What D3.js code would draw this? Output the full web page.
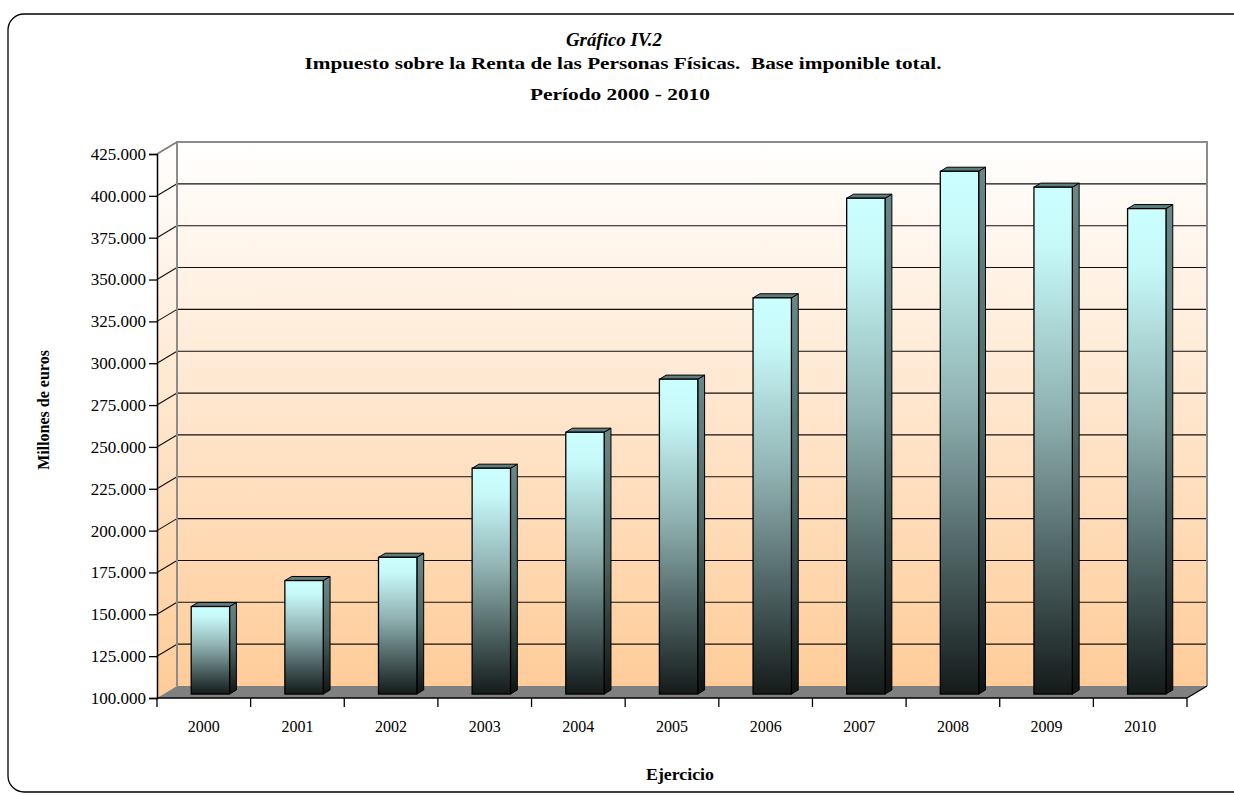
<!DOCTYPE html>
<html>
<head>
<meta charset="utf-8">
<script src="https://cdn.jsdelivr.net/npm/d3@7"></script>
<style>
  html, body { margin: 0; padding: 0; background: #fff; }
  svg { display: block; }
  text { font-family: "Liberation Serif", "Times New Roman", serif; fill: #000; }
</style>
</head>
<body>
<svg id="chart" width="1234" height="795"></svg>
<script>
// ---- Data ----
const years = ["2000","2001","2002","2003","2004","2005","2006","2007","2008","2009","2010"];
const values = [152300, 167800, 181700, 234900, 256400, 288100, 336700, 396200, 412300, 402800, 390000];
const yTicks = [100000,125000,150000,175000,200000,225000,250000,275000,300000,325000,350000,375000,400000,425000];
const titleLines = ["Gráfico IV.2", "Impuesto sobre la Renta de las Personas Físicas.\u00A0 Base imponible total.", "Período 2000 - 2010"];
const yAxisTitle = "Millones de euros";
const xAxisTitle = "Ejercicio";

// ---- Layout ----
const svg = d3.select("#chart");
const X0 = 157, X1 = 1187;   // front plane x range
const YB = 698, YT = 154;    // front plane y range
const DX = 20, DY = -12;     // depth offset of back wall
const zF = 0.33, zB = 0.67;  // bar depth range (fraction of depth)

const x = d3.scaleBand().domain(years).range([X0, X1]).paddingInner(0).paddingOuter(0);
const y = d3.scaleLinear().domain([100000, 425000]).range([YB, YT]);
const fmt = v => d3.format(",")(v).replace(/,/g, ".");

const defs = svg.append("defs");
const wallGrad = defs.append("linearGradient").attr("id","wallGrad")
  .attr("gradientUnits","userSpaceOnUse").attr("x1",0).attr("y1",YT+DY).attr("x2",0).attr("y2",YB+DY);
wallGrad.append("stop").attr("offset","0").attr("stop-color","#ffffff");
wallGrad.append("stop").attr("offset","1").attr("stop-color","#ffcc99");

const barGrad = defs.append("linearGradient").attr("id","barGrad").attr("x1",0).attr("y1",0).attr("x2",0).attr("y2",1);
[["0","#ccffff"],["0.12","#c6f8f8"],["0.45","#8fb0b0"],["0.75","#4a5e5e"],["1","#141a1a"]]
  .forEach(s => barGrad.append("stop").attr("offset",s[0]).attr("stop-color",s[1]));
const sideGrad = defs.append("linearGradient").attr("id","sideGrad").attr("x1",0).attr("y1",0).attr("x2",0).attr("y2",1);
[["0","#6a8888"],["0.5","#4a6262"],["1","#0f1414"]]
  .forEach(s => sideGrad.append("stop").attr("offset",s[0]).attr("stop-color",s[1]));

// Outer rounded frame
svg.append("rect").attr("x",8).attr("y",14).attr("width",1245).attr("height",778)
  .attr("rx",16).attr("ry",16).attr("fill","#fff").attr("stroke","#000").attr("stroke-width",1.3);

// Title
const titleSpec = [
  {x: 614, y: 46, size: 18, italic: true, len: 96},
  {x: 623, y: 69, size: 17, italic: false, len: 637},
  {x: 620, y: 100, size: 17, italic: false, len: 180}
];
titleLines.forEach((t,i) => {
  const s = titleSpec[i];
  svg.append("text").attr("x", s.x).attr("y", s.y).attr("text-anchor","middle")
    .attr("font-size", s.size).attr("font-weight","bold")
    .attr("font-style", s.italic ? "italic" : "normal")
    .attr("textLength", s.len).attr("lengthAdjust","spacingAndGlyphs").text(t);
});

const pline = pts => d3.line()(pts) + "Z";

// Back wall
svg.append("path").attr("d", pline([[X0+DX,YT+DY],[X1+DX,YT+DY],[X1+DX,YB+DY],[X0+DX,YB+DY]]))
  .attr("fill","url(#wallGrad)");
// Left side wall
svg.append("path").attr("d", pline([[X0,YT],[X0+DX,YT+DY],[X0+DX,YB+DY],[X0,YB]]))
  .attr("fill","url(#wallGrad)");

// Gridlines (back wall + side wall diagonals)
const grid = svg.append("g");
yTicks.slice(1, -1).forEach(v => {
  grid.append("line").attr("x1",X0+DX).attr("x2",X1+DX).attr("y1",y(v)+DY).attr("y2",y(v)+DY)
    .attr("stroke","#111").attr("stroke-width",1.1);
});
yTicks.slice(1).forEach(v => {
  grid.append("line").attr("x1",X0).attr("y1",y(v)).attr("x2",X0+DX).attr("y2",y(v)+DY)
    .attr("stroke", v===425000 ? "#808080" : "#111").attr("stroke-width",1.1);
});

// Floor
svg.append("path").attr("d", pline([[X0,YB],[X1,YB],[X1+DX,YB+DY],[X0+DX,YB+DY]]))
  .attr("fill","#808080");

// Wall border (gray)
svg.append("path").attr("d", d3.line()([[X0+DX,YB+DY],[X0+DX,YT+DY],[X1+DX,YT+DY],[X1+DX,YB+DY]]))
  .attr("fill","none").attr("stroke","#8c8c8c").attr("stroke-width",2);
svg.append("line").attr("x1",X0).attr("y1",YT).attr("x2",X0+DX).attr("y2",YT+DY)
  .attr("stroke","#808080").attr("stroke-width",1.5);

// Bars
const bw = x.bandwidth() * 0.41;
const dd = (zB - zF) * DX, ddy = (zB - zF) * DY;
const bars = svg.append("g").selectAll("g").data(years.map((yr,i)=>({yr, v: values[i]}))).join("g");
bars.each(function(d){
  const g = d3.select(this);
  const bx = x(d.yr) + (x.bandwidth() - bw)/2 + zF*DX;
  const top = y(d.v) + zF*DY, bot = y(100000) + zF*DY;
  g.append("path").attr("d", pline([[bx+bw,top],[bx+bw+dd,top+ddy],[bx+bw+dd,bot+ddy],[bx+bw,bot]]))
    .attr("fill","url(#sideGrad)").attr("stroke","#000").attr("stroke-width",1).attr("stroke-linejoin","round");
  g.append("path").attr("d", pline([[bx,top],[bx+dd,top+ddy],[bx+bw+dd,top+ddy],[bx+bw,top]]))
    .attr("fill","#5f7c7c").attr("stroke","#000").attr("stroke-width",1).attr("stroke-linejoin","round");
  g.append("rect").attr("x",bx).attr("y",top).attr("width",bw).attr("height",bot-top)
    .attr("fill","url(#barGrad)").attr("stroke","#000").attr("stroke-width",1.3);
});

// Y axis
const yAxis = svg.append("g").attr("transform",`translate(${X0},0)`)
  .call(d3.axisLeft(y).tickValues(yTicks).tickFormat(fmt).tickSize(8).tickPadding(3));
yAxis.attr("font-family", null);
yAxis.select(".domain").attr("stroke","#000").attr("stroke-width",1.5);
yAxis.selectAll(".tick line").attr("stroke","#000").attr("stroke-width",1.3);
yAxis.selectAll(".tick text").attr("font-size",17).attr("fill","#000");

// X axis: front floor edge, ticks at band boundaries, labels at centers
svg.append("line").attr("x1",X0).attr("x2",X1).attr("y1",YB).attr("y2",YB).attr("stroke","#000").attr("stroke-width",1.5);
svg.append("line").attr("x1",X1).attr("y1",YB).attr("x2",X1+DX).attr("y2",YB+DY).attr("stroke","#000").attr("stroke-width",1.3);
const bounds = years.map(yr => x(yr)).concat([X1]);
svg.append("g").selectAll("line").data(bounds).join("line")
  .attr("x1",d=>d).attr("x2",d=>d).attr("y1",YB).attr("y2",YB+9).attr("stroke","#000").attr("stroke-width",1.3);
svg.append("g").selectAll("text").data(years).join("text")
  .attr("x", d => x(d) + x.bandwidth()/2).attr("y", 732).attr("text-anchor","middle")
  .attr("font-size",16).text(d=>d);

// Axis titles
svg.append("text").attr("transform","translate(49,410) rotate(-90)").attr("text-anchor","middle")
  .attr("font-size",16).attr("font-weight","bold").text(yAxisTitle);
svg.append("text").attr("x",680).attr("y",780).attr("text-anchor","middle")
  .attr("font-size",16).attr("font-weight","bold").attr("textLength",68).attr("lengthAdjust","spacingAndGlyphs").text(xAxisTitle);
</script>
</body>
</html>
